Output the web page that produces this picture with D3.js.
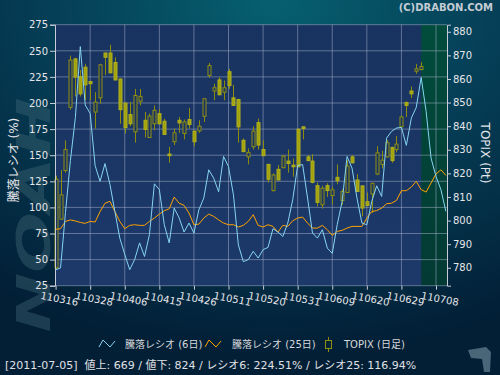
<!DOCTYPE html>
<html>
<head>
<meta charset="utf-8">
<script src="https://cdn.jsdelivr.net/npm/d3@7"></script>
<style>
  body { margin: 0; background: #02203a; }
  svg { display: block; }
  text { font-family: "DejaVu Sans", "Noto Sans CJK JP", sans-serif; }
</style>
</head>
<body>
<svg width="500" height="375"></svg>
<script>

// tick labels (every 7 trading days)
const dateLabels = ['110316','110328','110406','110415','110426','110511','110520','110531','110609','110620','110629','110708'];

// 騰落レシオ 6日
const ratio6 = [40.3, 42, 95, 145, 186, 254, 198, 190, 140, 125,
  142, 122, 96, 70.6, 55, 40.3, 50, 66, 53, 74,
  122.6, 117, 83.4, 66, 99.3, 90, 76.4, 85, 75.4, 97.7,
  109, 136, 128, 115, 148.8, 139, 112, 64, 48, 50,
  58, 51.5, 59.5, 61.7, 79.6, 76.4, 72.2, 85, 107.3, 140.2,
  141, 109, 75.4, 70.6, 78.6, 61, 56, 83.4, 105.7, 148.8,
  137.6, 109, 85, 83.4, 105.7, 120.7, 110.5, 166.4, 172.8, 176,
  176.6, 159.4, 185.5, 195.7, 224.5, 192, 147.2, 129.7, 116.9, 96.2];

// 騰落レシオ 25日
const ratio25 = [79, 79.6, 86.6, 88, 87, 85.6, 84.7, 86.6, 86, 96,
  104, 105.8, 96, 86.6, 79.6, 82.8, 83.4, 82.8, 82.8, 86.6,
  89.8, 93.6, 96.8, 98.7, 109.9, 104, 102, 94.6, 83.4, 84,
  89.8, 93.6, 91.4, 88, 85, 83.4, 83.4, 81.2, 82.8, 86.6,
  93, 82.8, 81.2, 83.4, 81.8, 76.4, 82.8, 81.8, 87.2, 89.8,
  90.7, 85, 80.2, 80.2, 82.8, 78.6, 73.2, 77, 78, 80.2,
  81.8, 81.8, 81.8, 89.8, 96, 97, 99.3, 103.5, 104, 106.7,
  116, 116, 119.5, 125, 117, 114.7, 123.4, 132, 136, 130.6];

// TOPIX daily
const topixOpen = [780, 800.6, 821.2, 848, 868.5, 861, 865, 858.9, 846, 852,
  871, 871, 867, 860, 849.8, 844.9, 837.6, 850.6, 842.5, 835.2,
  841, 845.3, 842.1, 828.2, 833.4, 842.5, 836.9, 842.8, 837.9, 838,
  844.2, 861.5, 854.9, 859.6, 854.4, 863.1, 852, 851.3, 834, 827,
  831.3, 841.5, 830.1, 823.8, 812.7, 821.7, 822.4, 825.2, 823.5, 838.7,
  839.7, 827, 825.2, 814.8, 806.7, 814.8, 810.6, 818.3, 808.5, 811.9,
  827, 817.2, 814.7, 808, 811.3, 819.7, 823.8, 827, 831, 830.1,
  839.7, 850, 854.9, 863.3, 864];
const topixHigh = [819, 821.4, 834, 869.9, 869, 863.8, 866.4, 859.2, 854.4, 866.4,
  871.2, 874.5, 869.2, 860.2, 850, 850.2, 855.8, 855.8, 846, 845.3,
  848.8, 847.2, 843.2, 831.3, 839, 843.9, 842.8, 847.8, 838.1, 842.5,
  851.8, 866.8, 858, 860.8, 859.4, 864.3, 857.5, 851.5, 834.8, 830.6,
  840, 843.2, 834, 824, 820, 823.5, 827.8, 830.1, 826.3, 839,
  840, 827.8, 828.2, 816.1, 814.8, 815.8, 814.4, 823.8, 813.3, 825.6,
  827.7, 819.7, 814.9, 811.9, 816, 831.5, 829.6, 834.1, 831.3, 835.8,
  844.6, 850.5, 856.8, 866.4, 867.1];
const topixLow = [779.5, 800.4, 820.3, 847, 852.6, 852.6, 851, 851, 839, 849.5,
  861.7, 862.4, 859.4, 841, 836.9, 840, 833, 848.8, 835.2, 835,
  838.3, 840.8, 836.3, 824.5, 832, 837.2, 834.4, 839, 831.5, 837.2,
  841.8, 860.5, 851, 853.1, 851, 855.8, 848.6, 833, 829, 823.8,
  830.1, 830.1, 827.3, 816.1, 812.3, 817, 822.2, 820.3, 818.6, 822.6,
  834.4, 825.2, 815.8, 806, 805.1, 810, 806.8, 815.4, 806.7, 811.7,
  824.2, 812.1, 801.8, 806, 803.2, 819.3, 822.1, 826.7, 824.5, 828.9,
  839.4, 843.9, 851.9, 862.2, 863.6];
const topixClose = [817.5, 810.9, 830.1, 868, 860.8, 853.7, 857.5, 858, 850.2, 866,
  869.2, 862.6, 859.6, 847, 839.4, 841, 853, 852.6, 838.6, 844.3,
  846.7, 841, 836.5, 827.5, 837.2, 841.4, 841.8, 840.7, 833.4, 840,
  851.6, 865.7, 856.3, 853.3, 856.3, 857.2, 848.8, 839.7, 829.2, 828.9,
  837.9, 832, 827.5, 817.5, 819.3, 817.2, 827.3, 824.2, 822.8, 822.8,
  839, 825.4, 816.2, 807.7, 813.7, 812.7, 813, 816.9, 812.3, 823.1,
  824.5, 812.3, 805.3, 806.4, 815.8, 828.7, 825.6, 833, 825.4, 832.4,
  843.9, 848.8, 853.7, 864.3, 865.3];

const leftTicks = [25, 50, 75, 100, 125, 150, 175, 200, 225, 250, 275];
const rightTicks = [780, 790, 800, 810, 820, 830, 840, 850, 860, 870, 880];

const svg = d3.select('svg');
const defs = svg.append('defs');

var bg = defs.append('radialGradient').attr('id', 'bg')
  .attr('cx', '0.55').attr('cy', '0').attr('r', '0.95');
bg.append('stop').attr('offset', '0').attr('stop-color', '#06606f');
bg.append('stop').attr('offset', '0.45').attr('stop-color', '#054058');
bg.append('stop').attr('offset', '1').attr('stop-color', '#021f36');

var pbg = defs.append('linearGradient').attr('id', 'pbg')
  .attr('x1', 0).attr('y1', 0).attr('x2', 0).attr('y2', 1);
pbg.append('stop').attr('offset', '0').attr('stop-color', '#193360');
pbg.append('stop').attr('offset', '1').attr('stop-color', '#1c396a');

var gbg = defs.append('linearGradient').attr('id', 'gbg')
  .attr('x1', 0).attr('y1', 0).attr('x2', 0).attr('y2', 1);
gbg.append('stop').attr('offset', '0').attr('stop-color', '#014c3c');
gbg.append('stop').attr('offset', '1').attr('stop-color', '#033a34');

svg.append('rect').attr('width', 500).attr('height', 375).attr('fill', 'url(#bg)');

// watermark
svg.append('text')
  .attr('transform', 'translate(50,215) rotate(-90)')
  .attr('text-anchor', 'middle')
  .attr('font-size', 46).attr('font-weight', 'bold').attr('font-style', 'italic')
  .attr('textLength', 235).attr('lengthAdjust', 'spacingAndGlyphs')
  .attr('fill', '#3d6372').attr('opacity', 0.45)
  .text('NOAH');

const pLeft = 55, pRight = 447, pTop = 24.7, pBottom = 285.7;

var x = d3.scaleLinear().domain([0, 77]).range([55.6, 436]);
var y = d3.scaleLinear().domain([25, 275]).range([pBottom, pTop]);
var yT = d3.scaleLinear().domain([772.4, 883]).range([pBottom, pTop]);

svg.append('rect').attr('x', pLeft).attr('y', pTop)
  .attr('width', pRight - pLeft).attr('height', pBottom - pTop).attr('fill', 'url(#pbg)');
svg.append('rect').attr('x', x(74)).attr('y', pTop)
  .attr('width', pRight - x(74)).attr('height', pBottom - pTop).attr('fill', 'url(#gbg)');

// grid
var tickIdx = dateLabels.map(function(d, i) { return i * 7; });
svg.append('g').selectAll('line').data(leftTicks).enter().append('line')
  .attr('x1', pLeft).attr('x2', pRight)
  .attr('y1', function(d) { return y(d); }).attr('y2', function(d) { return y(d); })
  .attr('stroke', '#aab4cc').attr('stroke-opacity', 0.5);
svg.append('g').selectAll('line').data(tickIdx.slice(1)).enter().append('line')
  .attr('x1', function(d) { return x(d); }).attr('x2', function(d) { return x(d); })
  .attr('y1', pTop).attr('y2', pBottom)
  .attr('stroke', '#aab4cc').attr('stroke-opacity', 0.5);

// candles
var idx = d3.range(topixOpen.length);
var candles = svg.append('g');
candles.selectAll('line').data(idx).enter().append('line')
  .attr('x1', function(i) { return Math.round(x(i)) + 0.5; })
  .attr('x2', function(i) { return Math.round(x(i)) + 0.5; })
  .attr('y1', function(i) { return yT(topixHigh[i]); })
  .attr('y2', function(i) { return yT(topixLow[i]); })
  .attr('stroke', '#8c8c0c');
candles.selectAll('rect').data(idx).enter().append('rect')
  .attr('x', function(i) { return Math.round(x(i)) - 1; })
  .attr('y', function(i) { return yT(Math.max(topixOpen[i], topixClose[i])); })
  .attr('width', 3)
  .attr('height', function(i) { return Math.max(1, yT(Math.min(topixOpen[i], topixClose[i])) - yT(Math.max(topixOpen[i], topixClose[i]))); })
  .attr('fill', function(i) { return topixClose[i] < topixOpen[i] ? '#a2a20a' : '#1a3562'; })
  .attr('stroke', function(i) { return topixClose[i] < topixOpen[i] ? '#b0b020' : '#8f8f10'; })
  .attr('stroke-width', 1);

// lines
var line6 = d3.line().x(function(d, i) { return x(i); }).y(function(d) { return y(d); });
svg.append('path').datum(ratio25).attr('d', line6)
  .attr('fill', 'none').attr('stroke', '#ffa200').attr('stroke-width', 1);
svg.append('path').datum(ratio6).attr('d', line6)
  .attr('fill', 'none').attr('stroke', '#86d4f2').attr('stroke-width', 1);

// axes
var axisColor = '#c8ccd8', labelColor = '#e6e6ea';
var gl = svg.append('g').attr('transform', 'translate(' + pLeft + ',0)')
  .call(d3.axisLeft(y).tickValues(leftTicks).tickSize(5).tickPadding(2));
var gr = svg.append('g').attr('transform', 'translate(' + pRight + ',0)')
  .call(d3.axisRight(yT).tickValues(rightTicks).tickSize(4).tickPadding(2));
var gb = svg.append('g').attr('transform', 'translate(0,' + pBottom + ')')
  .call(d3.axisBottom(x).tickValues(tickIdx).tickSize(4).tickFormat(function(d, i) { return dateLabels[i]; }));
[gl, gr, gb].forEach(function(g) {
  g.select('.domain').attr('stroke', axisColor);
  g.selectAll('.tick line').attr('stroke', axisColor);
  g.selectAll('text').attr('fill', labelColor).attr('font-size', 10)
    .attr('font-family', '"DejaVu Sans", sans-serif');
});
gb.select('.domain').remove();
gb.selectAll('text')
  .attr('text-anchor', 'start')
  .attr('x', 0).attr('y', 0).attr('dy', 0)
  .attr('transform', 'translate(-16,13) rotate(11)');

// axis titles
svg.append('text')
  .attr('transform', 'translate(18,160) rotate(-90)')
  .attr('text-anchor', 'middle').attr('font-size', 12).attr('fill', labelColor)
  .text('騰落レシオ (%)');
svg.append('text')
  .attr('transform', 'translate(481,153) rotate(90)')
  .attr('text-anchor', 'middle').attr('font-size', 12).attr('fill', labelColor)
  .text('TOPIX (Pt)');

svg.append('text')
  .attr('x', 493).attr('y', 11).attr('text-anchor', 'end')
  .attr('font-size', 10).attr('font-weight', 'bold').attr('fill', '#c4ccd4')
  .text('(C)DRABON.COM');

// legend
var legend = svg.append('g').attr('font-size', 10).attr('fill', '#d8d8dc');
legend.append('path').attr('d', 'M99,347 L103,340 L110,347 L115,341')
  .attr('fill', 'none').attr('stroke', '#86d4f2');
legend.append('text').attr('x', 125).attr('y', 348).text('騰落レシオ (6日)');
legend.append('path').attr('d', 'M205,347 L209,340 L216,347 L221,341')
  .attr('fill', 'none').attr('stroke', '#ffa200');
legend.append('text').attr('x', 232).attr('y', 348).text('騰落レシオ (25日)');
legend.append('line').attr('x1', 328.5).attr('x2', 328.5).attr('y1', 337).attr('y2', 352)
  .attr('stroke', '#8c8c0c');
legend.append('rect').attr('x', 325.5).attr('y', 340.5).attr('width', 6).attr('height', 8)
  .attr('fill', '#022338').attr('stroke', '#8f8f10');
legend.append('text').attr('x', 344).attr('y', 348).text('TOPIX (日足)');

// status
svg.append('text')
  .attr('x', 5).attr('y', 369).attr('font-size', 11).attr('fill', '#e0e0e4')
  .style('white-space', 'pre')
  .text('[2011-07-05]  値上: 669 / 値下: 824 / レシオ6: 224.51% / レシオ25: 116.94%');

// corner mark
svg.append('path')
  .attr('d', 'M468,350 L486,347 L491,352 L490,372 L484,372 L482,359 L471,358 Z')
  .attr('fill', '#5a7888').attr('opacity', 0.8);

</script>
</body>
</html>
